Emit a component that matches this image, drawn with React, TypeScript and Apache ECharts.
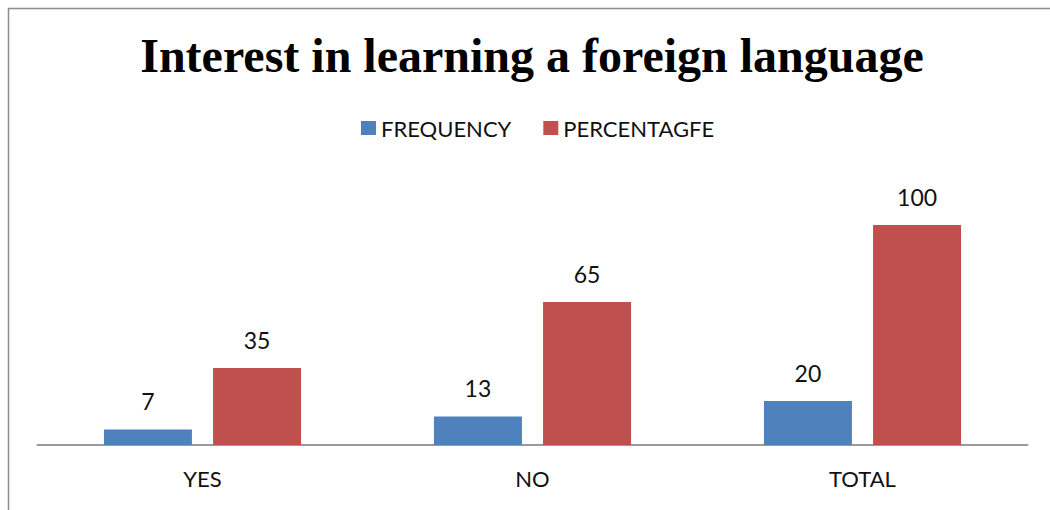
import React, { useEffect, useRef } from "react";
import * as echarts from "echarts";

const categories = ["YES", "NO", "TOTAL"];
const frequency = [7, 13, 20];
const percentage = [35, 65, 100];
const seriesNames = ["FREQUENCY", "PERCENTAGFE"];
const titleText = "Interest in learning a foreign language";

export default function App() {
  const ref = useRef<HTMLDivElement>(null);
  useEffect(() => {
    document.body.style.margin = "0";
    const chart = echarts.init(ref.current!, null, { renderer: "svg" });
    const labelStyle = {
      show: true,
      position: "top",
      distance: 17,
      fontFamily: "Lato, 'Open Sans', sans-serif",
      fontSize: 23,
      color: "#111",
    };
    chart.setOption({
      animation: false,
      backgroundColor: "#fff",
      title: {
        text: titleText,
        left: 527,
        textAlign: "center",
        top: 26,
        textStyle: {
          fontFamily: "'Liberation Serif', 'Times New Roman', serif",
          fontWeight: "bold",
          fontSize: 48,
          color: "#000",
        },
      },
      legend: {
        data: seriesNames,
        top: 112,
        left: 356,
        itemWidth: 15,
        itemHeight: 14,
        itemGap: 32,
        icon: "rect",
        textStyle: {
          fontFamily: "Lato, 'Open Sans', sans-serif",
          fontSize: 22,
          color: "#111",
        },
      },
      graphic: [
        {
          type: "rect",
          shape: { x: 8.5, y: 8.5, width: 1100, height: 600 },
          style: { fill: "none", stroke: "#8c8c8c", lineWidth: 1.5 },
          silent: true,
        },
      ],
      grid: { left: 37.5, right: 22.5, top: 225, bottom: 65 },
      xAxis: {
        type: "category",
        data: categories,
        axisLine: { lineStyle: { color: "#9a9a9a", width: 2 } },
        axisTick: { show: false },
        axisLabel: {
          margin: 22,
          fontFamily: "Lato, 'Open Sans', sans-serif",
          fontSize: 22,
          color: "#111",
        },
      },
      yAxis: {
        type: "value",
        min: 0,
        max: 100,
        show: false,
        splitLine: { show: false },
      },
      series: [
        {
          name: seriesNames[0],
          type: "bar",
          data: frequency,
          barWidth: 88,
          barGap: "24%",
          itemStyle: { color: "#4F81BD" },
          label: labelStyle,
        },
        {
          name: seriesNames[1],
          type: "bar",
          data: percentage,
          barWidth: 88,
          itemStyle: { color: "#C0504D" },
          label: labelStyle,
        },
      ],
    });
    return () => chart.dispose();
  }, []);
  return (
    <div
      ref={ref}
      style={{ position: "absolute", left: 0, top: 0, width: 1050, height: 510 }}
    />
  );
}
